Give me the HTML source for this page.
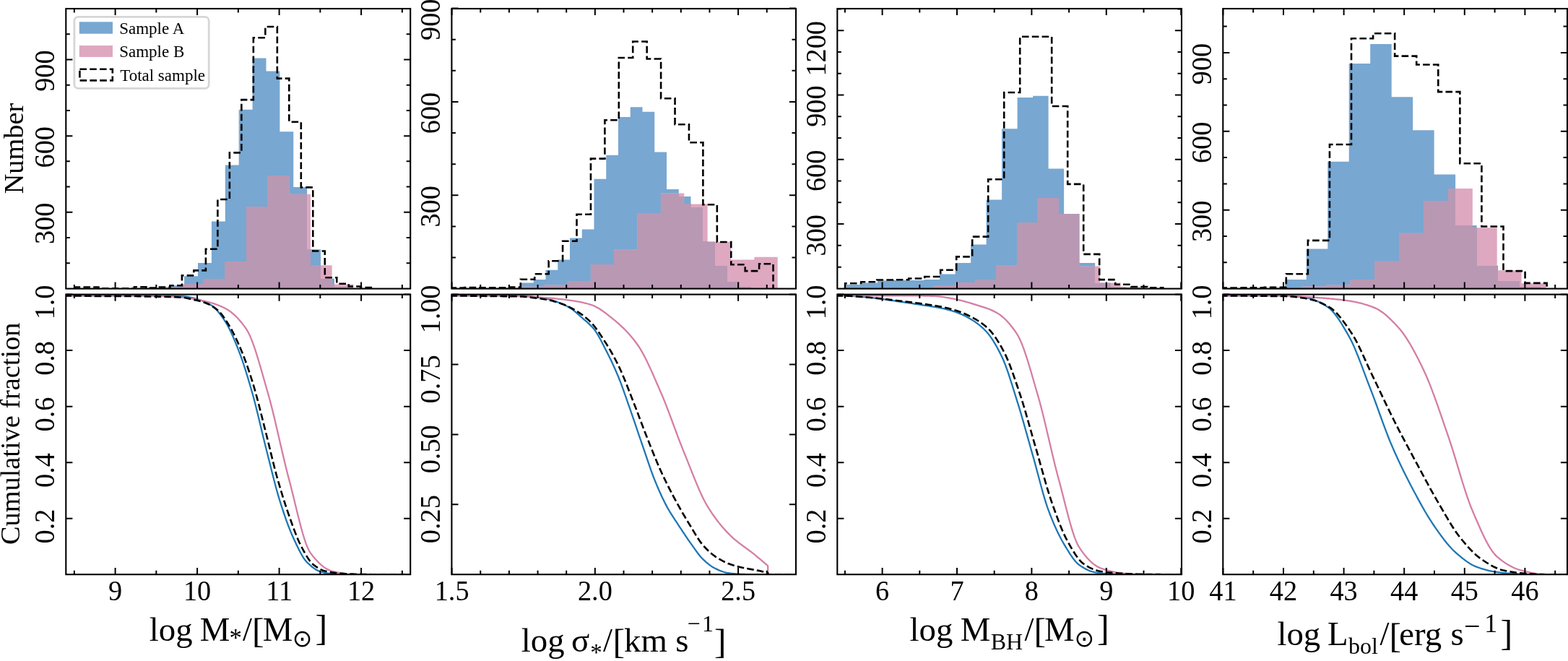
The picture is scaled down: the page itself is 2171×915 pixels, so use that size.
<!DOCTYPE html><html><head><meta charset="utf-8"><style>html,body{margin:0;padding:0;background:#fff;overflow:hidden}svg{display:block}</style></head><body>
<svg width="2171" height="915" viewBox="0 0 2171 915" font-family="'Liberation Serif', 'DejaVu Serif', serif">
<rect width="2171" height="915" fill="#fff"/>
<clipPath id="ct0"><rect x="91.3" y="12" width="476.9" height="387.6"/></clipPath>
<clipPath id="cb0"><rect x="91.3" y="407.6" width="476.9" height="387.6"/></clipPath>
<g clip-path="url(#ct0)">
<path d="M236.2,400.4 L236.2,395.3 L255.1,395.3 L255.1,382.3 L274,382.3 L274,364.1 L292.9,364.1 L292.9,306.6 L311.8,306.6 L311.8,228.4 L330.7,228.4 L330.7,151.8 L349.6,151.8 L349.6,80.6 L368.5,80.6 L368.5,98.5 L387.4,98.5 L387.4,182.3 L406.3,182.3 L406.3,259 L425.2,259 L425.2,345.3 L444.1,345.3 L444.1,385.8 L463,385.8 L463,397 L481.9,397 L481.9,400.4 Z" fill="#78a7d1"/>
<path d="M192.8,400.4 L192.8,398.6 L222.45,398.6 L222.45,397.2 L252.1,397.2 L252.1,393.2 L281.75,393.2 L281.75,386.3 L311.4,386.3 L311.4,362.1 L341.05,362.1 L341.05,286.3 L370.7,286.3 L370.7,243.3 L400.35,243.3 L400.35,268.8 L430,268.8 L430,367.2 L459.65,367.2 L459.65,393.4 L489.3,393.4 L489.3,400.4 Z" fill="#dea8c0"/>
<g fill="#b998b4" shape-rendering="crispEdges"><rect x="236.2" y="397.2" width="15.9" height="3.2"/><rect x="252.1" y="395.3" width="3" height="5.1"/><rect x="255.1" y="393.2" width="18.9" height="7.2"/><rect x="274" y="393.2" width="7.75" height="7.2"/><rect x="281.75" y="386.3" width="11.15" height="14.1"/><rect x="292.9" y="386.3" width="18.5" height="14.1"/><rect x="311.4" y="362.1" width="0.4" height="38.3"/><rect x="311.8" y="362.1" width="18.9" height="38.3"/><rect x="330.7" y="362.1" width="10.35" height="38.3"/><rect x="341.05" y="286.3" width="8.55" height="114.1"/><rect x="349.6" y="286.3" width="18.9" height="114.1"/><rect x="368.5" y="286.3" width="2.2" height="114.1"/><rect x="370.7" y="243.3" width="16.7" height="157.1"/><rect x="387.4" y="243.3" width="12.95" height="157.1"/><rect x="400.35" y="268.8" width="5.95" height="131.6"/><rect x="406.3" y="268.8" width="18.9" height="131.6"/><rect x="425.2" y="345.3" width="4.8" height="55.1"/><rect x="430" y="367.2" width="14.1" height="33.2"/><rect x="444.1" y="385.8" width="15.55" height="14.6"/><rect x="459.65" y="393.4" width="3.35" height="7"/><rect x="463" y="397" width="18.9" height="3.4"/></g>
<path d="M103.5,399.4 L103.5,397.5 L119.99,397.5 L119.99,397.5 L136.48,397.5 L136.48,399.4 L152.97,399.4 L152.97,399.4 L169.46,399.4 L169.46,399.4 L185.95,399.4 L185.95,397.3 L202.44,397.3 L202.44,398.5 L218.93,398.5 L218.93,397.5 L235.42,397.5 L235.42,395.3 L251.91,395.3 L251.91,381.4 L268.4,381.4 L268.4,374.4 L284.89,374.4 L284.89,344.7 L301.38,344.7 L301.38,276 L317.87,276 L317.87,211.4 L334.36,211.4 L334.36,138.1 L350.85,138.1 L350.85,52.2 L367.34,52.2 L367.34,37 L383.83,37 L383.83,108.6 L400.32,108.6 L400.32,168.7 L416.81,168.7 L416.81,259.4 L433.3,259.4 L433.3,347.5 L449.79,347.5 L449.79,384.2 L466.28,384.2 L466.28,392.7 L482.77,392.7 L482.77,396.5 L499.26,396.5 L499.26,398 L515.75,398 L515.75,399.4" fill="none" stroke="#000" stroke-width="2.6" stroke-dasharray="9.6 4.2"/>
</g>
<g clip-path="url(#cb0)">
<path d="M89.3,409.34 L236.2,409.34 L237.43,409.35 L238.67,409.37 L239.9,409.39 L241.14,409.43 L242.37,409.48 L243.61,409.53 L244.84,409.59 L246.08,409.66 L247.31,409.74 L248.55,409.82 L249.78,409.91 L251.02,410 L252.25,410.09 L253.49,410.19 L254.72,410.29 L255.95,410.4 L257.19,410.54 L258.42,410.71 L259.66,410.9 L260.89,411.11 L262.13,411.35 L263.36,411.61 L264.6,411.89 L265.83,412.18 L267.07,412.49 L268.3,412.81 L269.54,413.14 L270.77,413.48 L272.01,413.83 L273.24,414.19 L274.47,414.55 L275.71,414.92 L276.94,415.32 L278.18,415.74 L279.41,416.18 L280.65,416.64 L281.88,417.13 L283.12,417.64 L284.35,418.19 L285.59,418.76 L286.82,419.36 L288.06,420 L289.29,420.67 L290.53,421.38 L291.76,422.12 L292.99,422.9 L294.23,423.77 L295.46,424.74 L296.7,425.81 L297.93,426.98 L299.17,428.24 L300.4,429.58 L301.64,431.01 L302.87,432.5 L304.11,434.07 L305.34,435.7 L306.58,437.38 L307.81,439.12 L309.05,440.9 L310.28,442.72 L311.52,444.58 L312.75,446.5 L313.98,448.55 L315.22,450.73 L316.45,453.03 L317.69,455.45 L318.92,457.97 L320.16,460.59 L321.39,463.3 L322.63,466.1 L323.86,468.97 L325.1,471.9 L326.33,474.9 L327.57,477.95 L328.8,481.04 L330.04,484.16 L331.27,487.33 L332.5,490.6 L333.74,493.99 L334.97,497.48 L336.21,501.07 L337.44,504.76 L338.68,508.54 L339.91,512.4 L341.15,516.34 L342.38,520.36 L343.62,524.44 L344.85,528.59 L346.09,532.79 L347.32,537.04 L348.56,541.34 L349.79,545.68 L351.02,550.15 L352.26,554.77 L353.49,559.53 L354.73,564.41 L355.96,569.4 L357.2,574.46 L358.43,579.59 L359.67,584.75 L360.9,589.94 L362.14,595.13 L363.37,600.31 L364.61,605.44 L365.84,610.52 L367.08,615.52 L368.31,620.42 L369.54,625.28 L370.78,630.18 L372.01,635.12 L373.25,640.07 L374.48,645.03 L375.72,649.97 L376.95,654.89 L378.19,659.75 L379.42,664.56 L380.66,669.29 L381.89,673.93 L383.13,678.45 L384.36,682.85 L385.6,687.11 L386.83,691.21 L388.06,695.16 L389.3,699.05 L390.53,702.87 L391.77,706.64 L393,710.35 L394.24,713.98 L395.47,717.54 L396.71,721.03 L397.94,724.43 L399.18,727.74 L400.41,730.96 L401.65,734.08 L402.88,737.11 L404.12,740.02 L405.35,742.83 L406.58,745.53 L407.82,748.19 L409.05,750.84 L410.29,753.46 L411.52,756.05 L412.76,758.58 L413.99,761.06 L415.23,763.46 L416.46,765.76 L417.7,767.97 L418.93,770.06 L420.17,772.03 L421.4,773.85 L422.64,775.53 L423.87,777.03 L425.11,778.36 L426.34,779.56 L427.57,780.73 L428.81,781.87 L430.04,782.96 L431.28,784 L432.51,785 L433.75,785.94 L434.98,786.83 L436.22,787.66 L437.45,788.43 L438.69,789.14 L439.92,789.78 L441.16,790.34 L442.39,790.83 L443.63,791.24 L444.86,791.58 L446.09,791.91 L447.33,792.22 L448.56,792.51 L449.8,792.79 L451.03,793.05 L452.27,793.29 L453.5,793.52 L454.74,793.73 L455.97,793.92 L457.21,794.09 L458.44,794.24 L459.68,794.38 L460.91,794.49 L462.15,794.58 L463.38,794.65 L464.61,794.71 L465.85,794.77 L467.08,794.82 L468.32,794.88 L469.55,794.93 L470.79,794.98 L472.02,795.02 L473.26,795.06 L474.49,795.1 L475.73,795.13 L476.96,795.15 L478.2,795.17 L479.43,795.19 L480.67,795.2 L481.9,795.2 L570.2,795.2" fill="none" stroke="#1f77b4" stroke-width="2.3" stroke-linejoin="round"/>
<path d="M89.3,409.34 L192.8,409.34 L194.29,409.35 L195.78,409.36 L197.27,409.37 L198.76,409.39 L200.25,409.41 L201.74,409.43 L203.23,409.46 L204.72,409.49 L206.21,409.52 L207.7,409.55 L209.19,409.59 L210.68,409.62 L212.17,409.66 L213.66,409.7 L215.15,409.75 L216.64,409.79 L218.13,409.83 L219.62,409.88 L221.11,409.92 L222.6,409.97 L224.09,410.02 L225.58,410.07 L227.07,410.13 L228.56,410.19 L230.05,410.25 L231.54,410.32 L233.03,410.39 L234.52,410.47 L236.01,410.55 L237.5,410.63 L238.99,410.72 L240.48,410.81 L241.97,410.91 L243.46,411.01 L244.95,411.11 L246.44,411.22 L247.93,411.33 L249.42,411.45 L250.91,411.57 L252.4,411.7 L253.89,411.83 L255.38,411.98 L256.87,412.15 L258.36,412.32 L259.85,412.51 L261.34,412.72 L262.83,412.93 L264.32,413.15 L265.81,413.39 L267.3,413.64 L268.79,413.89 L270.28,414.16 L271.77,414.43 L273.26,414.72 L274.75,415.01 L276.24,415.31 L277.73,415.62 L279.22,415.93 L280.71,416.25 L282.2,416.58 L283.69,416.92 L285.18,417.27 L286.67,417.63 L288.16,418.01 L289.65,418.41 L291.14,418.82 L292.63,419.25 L294.12,419.71 L295.61,420.18 L297.1,420.67 L298.59,421.18 L300.08,421.72 L301.57,422.28 L303.06,422.86 L304.55,423.47 L306.04,424.11 L307.53,424.77 L309.02,425.47 L310.51,426.19 L312,426.94 L313.49,427.76 L314.98,428.64 L316.47,429.59 L317.96,430.61 L319.45,431.7 L320.94,432.86 L322.43,434.09 L323.92,435.39 L325.41,436.76 L326.9,438.2 L328.39,439.71 L329.88,441.3 L331.37,442.96 L332.86,444.69 L334.35,446.5 L335.84,448.38 L337.33,450.33 L338.82,452.37 L340.31,454.48 L341.79,456.7 L343.28,459.25 L344.77,462.14 L346.26,465.35 L347.75,468.85 L349.24,472.63 L350.73,476.65 L352.22,480.91 L353.71,485.36 L355.2,490 L356.69,494.79 L358.18,499.72 L359.67,504.75 L361.16,509.88 L362.65,515.07 L364.14,520.31 L365.63,525.56 L367.12,530.81 L368.61,536.04 L370.1,541.21 L371.59,546.37 L373.08,551.74 L374.57,557.33 L376.06,563.1 L377.55,569.04 L379.04,575.13 L380.53,581.33 L382.02,587.64 L383.51,594.02 L385,600.45 L386.49,606.92 L387.98,613.39 L389.47,619.84 L390.96,626.25 L392.45,632.61 L393.94,638.87 L395.43,645.03 L396.92,651.06 L398.41,656.94 L399.9,662.64 L401.39,668.24 L402.88,674.01 L404.37,679.93 L405.86,685.97 L407.35,692.07 L408.84,698.21 L410.33,704.34 L411.82,710.42 L413.31,716.41 L414.8,722.28 L416.29,727.98 L417.78,733.47 L419.27,738.71 L420.76,743.67 L422.25,748.3 L423.74,752.56 L425.23,756.42 L426.72,759.83 L428.21,762.76 L429.7,765.16 L431.19,767.17 L432.68,769.09 L434.17,770.95 L435.66,772.74 L437.15,774.45 L438.64,776.09 L440.13,777.66 L441.62,779.15 L443.11,780.56 L444.6,781.9 L446.09,783.15 L447.58,784.32 L449.07,785.4 L450.56,786.4 L452.05,787.31 L453.54,788.14 L455.03,788.87 L456.52,789.51 L458.01,790.06 L459.5,790.51 L460.99,790.9 L462.48,791.28 L463.97,791.65 L465.46,792.01 L466.95,792.35 L468.44,792.68 L469.93,793 L471.42,793.3 L472.91,793.58 L474.4,793.84 L475.89,794.08 L477.38,794.31 L478.87,794.51 L480.36,794.68 L481.85,794.84 L483.34,794.96 L484.83,795.07 L486.32,795.14 L487.81,795.18 L489.3,795.2 L570.2,795.2" fill="none" stroke="#d57ea5" stroke-width="2.3" stroke-linejoin="round"/>
<path d="M89.3,409.34 L103.5,409.34 L105.57,409.39 L107.64,409.43 L109.71,409.47 L111.79,409.52 L113.86,409.56 L115.93,409.6 L118,409.65 L120.07,409.69 L122.14,409.74 L124.22,409.79 L126.29,409.85 L128.36,409.91 L130.43,409.96 L132.5,410 L134.57,410.02 L136.65,410.03 L138.72,410.03 L140.79,410.03 L142.86,410.03 L144.93,410.03 L147,410.03 L149.08,410.03 L151.15,410.03 L153.22,410.03 L155.29,410.03 L157.36,410.03 L159.43,410.03 L161.51,410.03 L163.58,410.03 L165.65,410.03 L167.72,410.03 L169.79,410.03 L171.86,410.03 L173.93,410.03 L176.01,410.03 L178.08,410.03 L180.15,410.03 L182.22,410.03 L184.29,410.03 L186.36,410.03 L188.44,410.05 L190.51,410.09 L192.58,410.14 L194.65,410.21 L196.72,410.27 L198.79,410.33 L200.87,410.38 L202.94,410.42 L205.01,410.44 L207.08,410.46 L209.15,410.48 L211.22,410.5 L213.3,410.52 L215.37,410.53 L217.44,410.56 L219.51,410.58 L221.58,410.61 L223.65,410.65 L225.72,410.69 L227.8,410.73 L229.87,410.77 L231.94,410.83 L234.01,410.88 L236.08,410.94 L238.15,411 L240.23,411.07 L242.3,411.14 L244.37,411.23 L246.44,411.33 L248.51,411.44 L250.58,411.57 L252.66,411.72 L254.73,411.96 L256.8,412.29 L258.87,412.69 L260.94,413.14 L263.01,413.63 L265.09,414.13 L267.16,414.63 L269.23,415.11 L271.3,415.58 L273.37,416.07 L275.44,416.57 L277.52,417.11 L279.59,417.69 L281.66,418.32 L283.73,419.02 L285.8,419.8 L287.87,420.68 L289.94,421.68 L292.02,422.8 L294.09,424.03 L296.16,425.39 L298.23,426.86 L300.3,428.46 L302.37,430.21 L304.45,432.3 L306.52,434.71 L308.59,437.41 L310.66,440.34 L312.73,443.45 L314.8,446.7 L316.88,450.05 L318.95,453.47 L321.02,457.12 L323.09,461.01 L325.16,465.14 L327.23,469.46 L329.31,473.98 L331.38,478.67 L333.45,483.51 L335.52,488.51 L337.59,493.77 L339.66,499.28 L341.73,505.04 L343.81,511.03 L345.88,517.24 L347.95,523.66 L350.02,530.27 L352.09,537.13 L354.16,544.42 L356.24,552.08 L358.31,560.03 L360.38,568.17 L362.45,576.42 L364.52,584.69 L366.59,592.88 L368.67,601.01 L370.74,609.36 L372.81,617.86 L374.88,626.41 L376.95,634.9 L379.02,643.22 L381.1,651.29 L383.17,659 L385.24,666.32 L387.31,673.45 L389.38,680.4 L391.45,687.16 L393.53,693.75 L395.6,700.14 L397.67,706.34 L399.74,712.34 L401.81,718.2 L403.88,724.02 L405.95,729.75 L408.03,735.33 L410.1,740.68 L412.17,745.75 L414.24,750.46 L416.31,754.77 L418.38,758.73 L420.46,762.61 L422.53,766.35 L424.6,769.89 L426.67,773.15 L428.74,776.09 L430.81,778.63 L432.89,780.71 L434.96,782.41 L437.03,783.98 L439.1,785.42 L441.17,786.73 L443.24,787.88 L445.32,788.88 L447.39,789.72 L449.46,790.37 L451.53,790.89 L453.6,791.34 L455.67,791.75 L457.74,792.11 L459.82,792.43 L461.89,792.71 L463.96,792.96 L466.03,793.18 L468.1,793.39 L470.17,793.58 L472.25,793.76 L474.32,793.92 L476.39,794.07 L478.46,794.2 L480.53,794.31 L482.6,794.41 L484.68,794.5 L486.75,794.59 L488.82,794.66 L490.89,794.73 L492.96,794.79 L495.03,794.85 L497.11,794.9 L499.18,794.94 L501.25,794.99 L503.32,795.03 L505.39,795.07 L507.46,795.1 L509.54,795.13 L511.61,795.16 L513.68,795.18 L515.75,795.2 L570.2,795.2" fill="none" stroke="#000" stroke-width="2.6" stroke-linejoin="round" stroke-dasharray="9.6 4.2"/>
</g>
<path d="M159.6,399.6v-9.1M159.6,12v9.1M273.1,399.6v-9.1M273.1,12v9.1M386.6,399.6v-9.1M386.6,12v9.1M500.1,399.6v-9.1M500.1,12v9.1M102.85,399.6v-5.5M102.85,12v5.5M216.35,399.6v-5.5M216.35,12v5.5M329.85,399.6v-5.5M329.85,12v5.5M443.35,399.6v-5.5M443.35,12v5.5M556.85,399.6v-5.5M556.85,12v5.5M159.6,795.2v-9.1M159.6,407.6v9.1M273.1,795.2v-9.1M273.1,407.6v9.1M386.6,795.2v-9.1M386.6,407.6v9.1M500.1,795.2v-9.1M500.1,407.6v9.1M102.85,795.2v-5.5M102.85,407.6v5.5M216.35,795.2v-5.5M216.35,407.6v5.5M329.85,795.2v-5.5M329.85,407.6v5.5M443.35,795.2v-5.5M443.35,407.6v5.5M556.85,795.2v-5.5M556.85,407.6v5.5M91.3,293.77h9.1M568.2,293.77h-9.1M91.3,188.14h9.1M568.2,188.14h-9.1M91.3,82.51h9.1M568.2,82.51h-9.1M91.3,364.19h5.5M568.2,364.19h-5.5M91.3,328.98h5.5M568.2,328.98h-5.5M91.3,258.56h5.5M568.2,258.56h-5.5M91.3,223.35h5.5M568.2,223.35h-5.5M91.3,152.93h5.5M568.2,152.93h-5.5M91.3,117.72h5.5M568.2,117.72h-5.5M91.3,47.3h5.5M568.2,47.3h-5.5M91.3,12.09h5.5M568.2,12.09h-5.5M91.3,717.68h9.1M568.2,717.68h-9.1M91.3,640.16h9.1M568.2,640.16h-9.1M91.3,562.64h9.1M568.2,562.64h-9.1M91.3,485.12h9.1M568.2,485.12h-9.1M91.3,407.6h9.1M568.2,407.6h-9.1" stroke="#000" stroke-width="2.0" fill="none"/>
<rect x="91.3" y="12" width="476.9" height="387.6" fill="none" stroke="#000" stroke-width="2.1"/>
<rect x="91.3" y="407.6" width="476.9" height="387.6" fill="none" stroke="#000" stroke-width="2.1"/>
<g font-size="38.3">
<text transform="translate(159.6,831.3) scale(1,1.05)" text-anchor="middle">9</text>
<text transform="translate(273.1,831.3) scale(1,1.05)" text-anchor="middle">10</text>
<text transform="translate(386.6,831.3) scale(1,1.05)" text-anchor="middle">11</text>
<text transform="translate(500.1,831.3) scale(1,1.05)" text-anchor="middle">12</text>
<text transform="translate(74.9,280.67) rotate(-90) scale(1,1.05)" text-anchor="end">300</text>
<text transform="translate(74.9,175.04) rotate(-90) scale(1,1.05)" text-anchor="end">600</text>
<text transform="translate(74.9,69.41) rotate(-90) scale(1,1.05)" text-anchor="end">900</text>
<text transform="translate(74.9,704.58) rotate(-90) scale(1,1.05)" text-anchor="end">0.2</text>
<text transform="translate(74.9,627.06) rotate(-90) scale(1,1.05)" text-anchor="end">0.4</text>
<text transform="translate(74.9,549.54) rotate(-90) scale(1,1.05)" text-anchor="end">0.6</text>
<text transform="translate(74.9,472.02) rotate(-90) scale(1,1.05)" text-anchor="end">0.8</text>
<text transform="translate(74.9,394.5) rotate(-90) scale(1,1.05)" text-anchor="end">1.0</text>
</g>
<clipPath id="ct1"><rect x="625.4" y="12" width="476.6" height="387.6"/></clipPath>
<clipPath id="cb1"><rect x="625.4" y="407.6" width="476.6" height="387.6"/></clipPath>
<g clip-path="url(#ct1)">
<path d="M722,400.6 L722,391.6 L738.75,391.6 L738.75,387.1 L755.5,387.1 L755.5,373.7 L772.25,373.7 L772.25,359.6 L789,359.6 L789,329.5 L805.75,329.5 L805.75,317.6 L822.5,317.6 L822.5,247.7 L839.25,247.7 L839.25,214.7 L856,214.7 L856,161.9 L872.75,161.9 L872.75,148.2 L889.5,148.2 L889.5,154.7 L906.25,154.7 L906.25,210.5 L923,210.5 L923,262 L939.75,262 L939.75,272.1 L956.5,272.1 L956.5,287.3 L973.25,287.3 L973.25,334.4 L990,334.4 L990,368 L1006.75,368 L1006.75,390.4 L1023.5,390.4 L1023.5,397 L1040.25,397 L1040.25,400.6 Z" fill="#78a7d1"/>
<path d="M688.4,400.6 L688.4,398.3 L720.76,398.3 L720.76,396.7 L753.12,396.7 L753.12,394.5 L785.48,394.5 L785.48,389.4 L817.84,389.4 L817.84,366.3 L850.2,366.3 L850.2,345.6 L882.56,345.6 L882.56,295.2 L914.92,295.2 L914.92,267.6 L947.28,267.6 L947.28,282.4 L979.64,282.4 L979.64,334.8 L1012,334.8 L1012,359.5 L1044.36,359.5 L1044.36,355.7 L1076.72,355.7 L1076.72,400.6 Z" fill="#dea8c0"/>
<g fill="#b998b4" shape-rendering="crispEdges"><rect x="722" y="396.7" width="16.75" height="3.9"/><rect x="738.75" y="396.7" width="14.37" height="3.9"/><rect x="753.12" y="394.5" width="2.38" height="6.1"/><rect x="755.5" y="394.5" width="16.75" height="6.1"/><rect x="772.25" y="394.5" width="13.23" height="6.1"/><rect x="785.48" y="389.4" width="3.52" height="11.2"/><rect x="789" y="389.4" width="16.75" height="11.2"/><rect x="805.75" y="389.4" width="12.09" height="11.2"/><rect x="817.84" y="366.3" width="4.66" height="34.3"/><rect x="822.5" y="366.3" width="16.75" height="34.3"/><rect x="839.25" y="366.3" width="10.95" height="34.3"/><rect x="850.2" y="345.6" width="5.8" height="55"/><rect x="856" y="345.6" width="16.75" height="55"/><rect x="872.75" y="345.6" width="9.81" height="55"/><rect x="882.56" y="295.2" width="6.94" height="105.4"/><rect x="889.5" y="295.2" width="16.75" height="105.4"/><rect x="906.25" y="295.2" width="8.67" height="105.4"/><rect x="914.92" y="267.6" width="8.08" height="133"/><rect x="923" y="267.6" width="16.75" height="133"/><rect x="939.75" y="272.1" width="7.53" height="128.5"/><rect x="947.28" y="282.4" width="9.22" height="118.2"/><rect x="956.5" y="287.3" width="16.75" height="113.3"/><rect x="973.25" y="334.4" width="6.39" height="66.2"/><rect x="979.64" y="334.8" width="10.36" height="65.8"/><rect x="990" y="368" width="16.75" height="32.6"/><rect x="1006.75" y="390.4" width="5.25" height="10.2"/><rect x="1012" y="390.4" width="11.5" height="10.2"/><rect x="1023.5" y="397" width="16.75" height="3.6"/></g>
<path d="M623.65,399.6 L623.65,398.5 L643.08,398.5 L643.08,398 L662.51,398 L662.51,398.3 L681.94,398.3 L681.94,398.3 L701.37,398.3 L701.37,397.6 L720.8,397.6 L720.8,386.7 L740.23,386.7 L740.23,379.3 L759.66,379.3 L759.66,361.3 L779.09,361.3 L779.09,333.8 L798.52,333.8 L798.52,296.8 L817.95,296.8 L817.95,219.6 L837.38,219.6 L837.38,166.3 L856.81,166.3 L856.81,80 L876.24,80 L876.24,57.5 L895.67,57.5 L895.67,81.5 L915.1,81.5 L915.1,136.2 L934.53,136.2 L934.53,172.2 L953.96,172.2 L953.96,197.3 L973.39,197.3 L973.39,283.3 L992.82,283.3 L992.82,335 L1012.25,335 L1012.25,366.2 L1031.68,366.2 L1031.68,375.1 L1051.11,375.1 L1051.11,365.3 L1070.54,365.3 L1070.54,399.6" fill="none" stroke="#000" stroke-width="2.6" stroke-dasharray="9.6 4.2"/>
</g>
<g clip-path="url(#cb1)">
<path d="M623.4,409.34 L722,409.34 L723.6,409.46 L725.2,409.58 L726.8,409.71 L728.4,409.84 L730,409.99 L731.6,410.14 L733.19,410.3 L734.79,410.47 L736.39,410.64 L737.99,410.81 L739.59,411 L741.19,411.18 L742.79,411.37 L744.39,411.58 L745.99,411.79 L747.59,412.01 L749.19,412.24 L750.79,412.49 L752.39,412.76 L753.98,413.04 L755.58,413.35 L757.18,413.68 L758.78,414.06 L760.38,414.48 L761.98,414.92 L763.58,415.4 L765.18,415.91 L766.78,416.44 L768.38,416.98 L769.98,417.55 L771.58,418.12 L773.18,418.71 L774.78,419.32 L776.37,419.95 L777.97,420.61 L779.57,421.31 L781.17,422.03 L782.77,422.8 L784.37,423.59 L785.97,424.43 L787.57,425.32 L789.17,426.24 L790.77,427.26 L792.37,428.37 L793.97,429.57 L795.57,430.85 L797.16,432.18 L798.76,433.56 L800.36,434.97 L801.96,436.4 L803.56,437.83 L805.16,439.26 L806.76,440.65 L808.36,442.02 L809.96,443.38 L811.56,444.74 L813.16,446.13 L814.76,447.57 L816.36,449.06 L817.95,450.64 L819.55,452.31 L821.15,454.11 L822.75,456.03 L824.35,458.18 L825.95,460.56 L827.55,463.14 L829.15,465.9 L830.75,468.79 L832.35,471.79 L833.95,474.87 L835.55,478 L837.15,481.15 L838.74,484.27 L840.34,487.39 L841.94,490.54 L843.54,493.75 L845.14,497.02 L846.74,500.36 L848.34,503.76 L849.94,507.24 L851.54,510.81 L853.14,514.45 L854.74,518.19 L856.34,522.03 L857.94,526.01 L859.54,530.16 L861.13,534.44 L862.73,538.83 L864.33,543.32 L865.93,547.86 L867.53,552.45 L869.13,557.06 L870.73,561.66 L872.33,566.23 L873.93,570.79 L875.53,575.39 L877.13,580.04 L878.73,584.72 L880.33,589.42 L881.92,594.14 L883.52,598.85 L885.12,603.56 L886.72,608.25 L888.32,612.9 L889.92,617.53 L891.52,622.19 L893.12,626.91 L894.72,631.65 L896.32,636.38 L897.92,641.09 L899.52,645.73 L901.12,650.28 L902.71,654.71 L904.31,658.99 L905.91,663.09 L907.51,667.04 L909.11,670.91 L910.71,674.7 L912.31,678.41 L913.91,682.04 L915.51,685.57 L917.11,689 L918.71,692.33 L920.31,695.55 L921.91,698.65 L923.51,701.63 L925.1,704.48 L926.7,707.22 L928.3,709.86 L929.9,712.43 L931.5,714.93 L933.1,717.38 L934.7,719.81 L936.3,722.22 L937.9,724.63 L939.5,727.07 L941.1,729.52 L942.7,731.97 L944.3,734.4 L945.89,736.82 L947.49,739.22 L949.09,741.6 L950.69,743.96 L952.29,746.28 L953.89,748.58 L955.49,750.84 L957.09,753.07 L958.69,755.32 L960.29,757.6 L961.89,759.88 L963.49,762.14 L965.09,764.35 L966.68,766.49 L968.28,768.55 L969.88,770.48 L971.48,772.28 L973.08,773.92 L974.68,775.44 L976.28,776.9 L977.88,778.32 L979.48,779.67 L981.08,780.97 L982.68,782.19 L984.28,783.34 L985.88,784.41 L987.47,785.39 L989.07,786.29 L990.67,787.09 L992.27,787.86 L993.87,788.61 L995.47,789.33 L997.07,790 L998.67,790.63 L1000.27,791.21 L1001.87,791.74 L1003.47,792.19 L1005.07,792.58 L1006.67,792.89 L1008.27,793.15 L1009.86,793.39 L1011.46,793.61 L1013.06,793.81 L1014.66,794 L1016.26,794.16 L1017.86,794.31 L1019.46,794.45 L1021.06,794.56 L1022.66,794.65 L1024.26,794.73 L1025.86,794.8 L1027.46,794.87 L1029.06,794.94 L1030.65,795 L1032.25,795.06 L1033.85,795.11 L1035.45,795.15 L1037.05,795.17 L1038.65,795.19 L1040.25,795.2 L1104,795.2" fill="none" stroke="#1f77b4" stroke-width="2.3" stroke-linejoin="round"/>
<path d="M623.4,409.34 L688.4,409.34 L690.28,409.36 L692.17,409.39 L694.05,409.42 L695.93,409.45 L697.82,409.49 L699.7,409.53 L701.58,409.58 L703.47,409.62 L705.35,409.67 L707.23,409.73 L709.12,409.78 L711,409.84 L712.88,409.9 L714.77,409.96 L716.65,410.03 L718.53,410.09 L720.42,410.16 L722.3,410.22 L724.18,410.3 L726.07,410.38 L727.95,410.46 L729.84,410.55 L731.72,410.65 L733.6,410.75 L735.49,410.85 L737.37,410.96 L739.25,411.07 L741.14,411.19 L743.02,411.31 L744.9,411.43 L746.79,411.56 L748.67,411.69 L750.55,411.82 L752.44,411.96 L754.32,412.09 L756.2,412.23 L758.09,412.38 L759.97,412.53 L761.85,412.69 L763.74,412.85 L765.62,413.02 L767.5,413.2 L769.39,413.38 L771.27,413.57 L773.15,413.77 L775.04,413.97 L776.92,414.18 L778.8,414.4 L780.69,414.62 L782.57,414.86 L784.45,415.1 L786.34,415.35 L788.22,415.61 L790.1,415.87 L791.99,416.15 L793.87,416.43 L795.75,416.73 L797.64,417.04 L799.52,417.37 L801.41,417.72 L803.29,418.08 L805.17,418.47 L807.06,418.87 L808.94,419.3 L810.82,419.76 L812.71,420.24 L814.59,420.75 L816.47,421.29 L818.36,421.86 L820.24,422.52 L822.12,423.29 L824.01,424.17 L825.89,425.14 L827.77,426.19 L829.66,427.33 L831.54,428.53 L833.42,429.8 L835.31,431.13 L837.19,432.51 L839.07,433.93 L840.96,435.38 L842.84,436.86 L844.72,438.37 L846.61,439.88 L848.49,441.41 L850.37,442.93 L852.26,444.47 L854.14,446.05 L856.02,447.67 L857.91,449.34 L859.79,451.06 L861.67,452.83 L863.56,454.66 L865.44,456.55 L867.32,458.5 L869.21,460.52 L871.09,462.6 L872.97,464.76 L874.86,467 L876.74,469.31 L878.63,471.7 L880.51,474.19 L882.39,476.76 L884.28,479.47 L886.16,482.41 L888.04,485.55 L889.93,488.87 L891.81,492.37 L893.69,496.02 L895.58,499.82 L897.46,503.73 L899.34,507.76 L901.23,511.87 L903.11,516.06 L904.99,520.32 L906.88,524.62 L908.76,528.95 L910.64,533.29 L912.53,537.63 L914.41,541.95 L916.29,546.29 L918.18,550.78 L920.06,555.4 L921.94,560.15 L923.83,564.99 L925.71,569.92 L927.59,574.91 L929.48,579.95 L931.36,585.02 L933.24,590.11 L935.13,595.19 L937.01,600.25 L938.89,605.28 L940.78,610.24 L942.66,615.14 L944.54,619.94 L946.43,624.64 L948.31,629.24 L950.19,633.89 L952.08,638.6 L953.96,643.34 L955.85,648.1 L957.73,652.85 L959.61,657.57 L961.5,662.25 L963.38,666.86 L965.26,671.39 L967.15,675.81 L969.03,680.1 L970.91,684.24 L972.8,688.22 L974.68,692.01 L976.56,695.59 L978.45,698.95 L980.33,702.07 L982.21,705.07 L984.1,707.97 L985.98,710.79 L987.86,713.52 L989.75,716.17 L991.63,718.73 L993.51,721.22 L995.4,723.63 L997.28,725.97 L999.16,728.23 L1001.05,730.43 L1002.93,732.56 L1004.81,734.63 L1006.7,736.64 L1008.58,738.59 L1010.46,740.49 L1012.35,742.33 L1014.23,744.1 L1016.11,745.79 L1018,747.41 L1019.88,748.96 L1021.76,750.47 L1023.65,751.92 L1025.53,753.35 L1027.42,754.74 L1029.3,756.11 L1031.18,757.47 L1033.07,758.83 L1034.95,760.2 L1036.83,761.58 L1038.72,762.98 L1040.6,764.41 L1042.48,765.88 L1044.37,767.4 L1046.25,768.95 L1048.13,770.51 L1050.02,772.07 L1051.9,773.65 L1053.78,775.23 L1055.67,776.83 L1057.55,778.43 L1059.43,780.04 L1061.32,781.66 L1063.2,783.28 L1063.2,795.2 L1104,795.2" fill="none" stroke="#d57ea5" stroke-width="2.3" stroke-linejoin="round"/>
<path d="M623.4,409.34 L623.65,409.34 L625.86,409.36 L628.07,409.37 L630.28,409.39 L632.49,409.41 L634.69,409.43 L636.9,409.45 L639.11,409.47 L641.32,409.49 L643.53,409.51 L645.74,409.54 L647.95,409.56 L650.16,409.59 L652.36,409.62 L654.57,409.65 L656.78,409.67 L658.99,409.7 L661.2,409.73 L663.41,409.75 L665.62,409.78 L667.83,409.8 L670.03,409.82 L672.24,409.84 L674.45,409.86 L676.66,409.89 L678.87,409.91 L681.08,409.93 L683.29,409.95 L685.5,409.97 L687.71,409.99 L689.91,410.01 L692.12,410.03 L694.33,410.05 L696.54,410.08 L698.75,410.1 L700.96,410.12 L703.17,410.15 L705.38,410.17 L707.58,410.2 L709.79,410.23 L712,410.25 L714.21,410.29 L716.42,410.33 L718.63,410.37 L720.84,410.43 L723.05,410.51 L725.25,410.66 L727.46,410.84 L729.67,411.06 L731.88,411.31 L734.09,411.57 L736.3,411.85 L738.51,412.12 L740.72,412.39 L742.92,412.67 L745.13,412.95 L747.34,413.26 L749.55,413.58 L751.76,413.92 L753.97,414.28 L756.18,414.67 L758.39,415.09 L760.6,415.53 L762.8,416.03 L765.01,416.57 L767.22,417.15 L769.43,417.79 L771.64,418.46 L773.85,419.17 L776.06,419.92 L778.27,420.71 L780.47,421.53 L782.68,422.43 L784.89,423.41 L787.1,424.44 L789.31,425.55 L791.52,426.71 L793.73,427.93 L795.94,429.2 L798.14,430.52 L800.35,431.89 L802.56,433.34 L804.77,434.86 L806.98,436.47 L809.19,438.17 L811.4,439.97 L813.61,441.87 L815.82,443.9 L818.02,446.04 L820.23,448.39 L822.44,450.99 L824.65,453.81 L826.86,456.81 L829.07,459.97 L831.28,463.24 L833.49,466.6 L835.69,470 L837.9,473.42 L840.11,476.91 L842.32,480.5 L844.53,484.2 L846.74,488.02 L848.95,491.96 L851.16,496.04 L853.36,500.26 L855.57,504.63 L857.78,509.17 L859.99,514.01 L862.2,519.11 L864.41,524.42 L866.62,529.91 L868.83,535.5 L871.03,541.16 L873.24,546.83 L875.45,552.46 L877.66,558.06 L879.87,563.75 L882.08,569.53 L884.29,575.37 L886.5,581.22 L888.71,587.07 L890.91,592.88 L893.12,598.61 L895.33,604.24 L897.54,609.8 L899.75,615.36 L901.96,620.9 L904.17,626.4 L906.38,631.83 L908.58,637.17 L910.79,642.4 L913,647.49 L915.21,652.42 L917.42,657.21 L919.63,661.89 L921.84,666.47 L924.05,670.95 L926.25,675.35 L928.46,679.66 L930.67,683.91 L932.88,688.09 L935.09,692.21 L937.3,696.26 L939.51,700.24 L941.72,704.15 L943.93,708 L946.13,711.79 L948.34,715.53 L950.55,719.22 L952.76,722.87 L954.97,726.49 L957.18,730.18 L959.39,733.9 L961.6,737.61 L963.8,741.24 L966.01,744.74 L968.22,748.06 L970.43,751.13 L972.64,753.91 L974.85,756.39 L977.06,758.74 L979.27,760.98 L981.47,763.09 L983.68,765.09 L985.89,766.96 L988.1,768.7 L990.31,770.32 L992.52,771.8 L994.73,773.17 L996.94,774.48 L999.14,775.72 L1001.35,776.9 L1003.56,777.99 L1005.77,779.02 L1007.98,779.96 L1010.19,780.82 L1012.4,781.6 L1014.61,782.31 L1016.82,782.96 L1019.02,783.57 L1021.23,784.14 L1023.44,784.67 L1025.65,785.18 L1027.86,785.67 L1030.07,786.15 L1032.28,786.62 L1034.49,787.07 L1036.69,787.48 L1038.9,787.87 L1041.11,788.26 L1043.32,788.64 L1045.53,789.03 L1047.74,789.44 L1049.95,789.88 L1052.16,790.35 L1054.36,790.86 L1056.57,791.39 L1058.78,791.94 L1060.99,792.51 L1063.2,793.1 L1063.2,795.2 L1104,795.2" fill="none" stroke="#000" stroke-width="2.6" stroke-linejoin="round" stroke-dasharray="9.6 4.2"/>
</g>
<path d="M625.6,399.6v-9.1M625.6,12v9.1M823.85,399.6v-9.1M823.85,12v9.1M1022.1,399.6v-9.1M1022.1,12v9.1M665.25,399.6v-5.5M665.25,12v5.5M704.9,399.6v-5.5M704.9,12v5.5M744.55,399.6v-5.5M744.55,12v5.5M784.2,399.6v-5.5M784.2,12v5.5M863.5,399.6v-5.5M863.5,12v5.5M903.15,399.6v-5.5M903.15,12v5.5M942.8,399.6v-5.5M942.8,12v5.5M982.45,399.6v-5.5M982.45,12v5.5M1061.75,399.6v-5.5M1061.75,12v5.5M625.6,795.2v-9.1M625.6,407.6v9.1M823.85,795.2v-9.1M823.85,407.6v9.1M1022.1,795.2v-9.1M1022.1,407.6v9.1M665.25,795.2v-5.5M665.25,407.6v5.5M704.9,795.2v-5.5M704.9,407.6v5.5M744.55,795.2v-5.5M744.55,407.6v5.5M784.2,795.2v-5.5M784.2,407.6v5.5M863.5,795.2v-5.5M863.5,407.6v5.5M903.15,795.2v-5.5M903.15,407.6v5.5M942.8,795.2v-5.5M942.8,407.6v5.5M982.45,795.2v-5.5M982.45,407.6v5.5M1061.75,795.2v-5.5M1061.75,407.6v5.5M625.4,270.27h9.1M1102,270.27h-9.1M625.4,140.94h9.1M1102,140.94h-9.1M625.4,11.61h9.1M1102,11.61h-9.1M625.4,356.49h5.5M1102,356.49h-5.5M625.4,313.38h5.5M1102,313.38h-5.5M625.4,227.16h5.5M1102,227.16h-5.5M625.4,184.05h5.5M1102,184.05h-5.5M625.4,97.83h5.5M1102,97.83h-5.5M625.4,54.72h5.5M1102,54.72h-5.5M625.4,698.3h9.1M1102,698.3h-9.1M625.4,601.4h9.1M1102,601.4h-9.1M625.4,504.5h9.1M1102,504.5h-9.1M625.4,407.6h9.1M1102,407.6h-9.1" stroke="#000" stroke-width="2.0" fill="none"/>
<rect x="625.4" y="12" width="476.6" height="387.6" fill="none" stroke="#000" stroke-width="2.1"/>
<rect x="625.4" y="407.6" width="476.6" height="387.6" fill="none" stroke="#000" stroke-width="2.1"/>
<g font-size="38.3">
<text transform="translate(625.6,831.3) scale(1,1.05)" text-anchor="middle">1.5</text>
<text transform="translate(823.85,831.3) scale(1,1.05)" text-anchor="middle">2.0</text>
<text transform="translate(1022.1,831.3) scale(1,1.05)" text-anchor="middle">2.5</text>
<text transform="translate(609,257.17) rotate(-90) scale(1,1.05)" text-anchor="end">300</text>
<text transform="translate(609,127.84) rotate(-90) scale(1,1.05)" text-anchor="end">600</text>
<text transform="translate(609,-1.49) rotate(-90) scale(1,1.05)" text-anchor="end">900</text>
<text transform="translate(609,685.2) rotate(-90) scale(1,1.05)" text-anchor="end">0.25</text>
<text transform="translate(609,588.3) rotate(-90) scale(1,1.05)" text-anchor="end">0.50</text>
<text transform="translate(609,491.4) rotate(-90) scale(1,1.05)" text-anchor="end">0.75</text>
<text transform="translate(609,394.5) rotate(-90) scale(1,1.05)" text-anchor="end">1.00</text>
</g>
<clipPath id="ct2"><rect x="1159.3" y="12" width="476.7" height="387.6"/></clipPath>
<clipPath id="cb2"><rect x="1159.3" y="407.6" width="476.7" height="387.6"/></clipPath>
<g clip-path="url(#ct2)">
<path d="M1172,400.4 L1172,394 L1193.51,394 L1193.51,391.5 L1215.02,391.5 L1215.02,388.5 L1236.53,388.5 L1236.53,388 L1258.04,388 L1258.04,388 L1279.55,388 L1279.55,387 L1301.06,387 L1301.06,379.6 L1322.57,379.6 L1322.57,363.9 L1344.08,363.9 L1344.08,338.4 L1365.59,338.4 L1365.59,276.5 L1387.1,276.5 L1387.1,178.3 L1408.61,178.3 L1408.61,135 L1430.12,135 L1430.12,132.8 L1451.63,132.8 L1451.63,233.6 L1473.14,233.6 L1473.14,295.9 L1494.65,295.9 L1494.65,364 L1516.16,364 L1516.16,391.6 L1537.67,391.6 L1537.67,397 L1559.18,397 L1559.18,400.4 Z" fill="#78a7d1"/>
<path d="M1264.6,400.4 L1264.6,398.8 L1293.3,398.8 L1293.3,394.9 L1322,394.9 L1322,391 L1350.7,391 L1350.7,387.7 L1379.4,387.7 L1379.4,367 L1408.1,367 L1408.1,308 L1436.8,308 L1436.8,274 L1465.5,274 L1465.5,295.9 L1494.2,295.9 L1494.2,368.5 L1522.9,368.5 L1522.9,391.6 L1551.6,391.6 L1551.6,397.2 L1580.3,397.2 L1580.3,400.4 Z" fill="#dea8c0"/>
<g fill="#b998b4" shape-rendering="crispEdges"><rect x="1264.6" y="398.8" width="14.95" height="1.6"/><rect x="1279.55" y="398.8" width="13.75" height="1.6"/><rect x="1293.3" y="394.9" width="7.76" height="5.5"/><rect x="1301.06" y="394.9" width="20.94" height="5.5"/><rect x="1322" y="391" width="0.57" height="9.4"/><rect x="1322.57" y="391" width="21.51" height="9.4"/><rect x="1344.08" y="391" width="6.62" height="9.4"/><rect x="1350.7" y="387.7" width="14.89" height="12.7"/><rect x="1365.59" y="387.7" width="13.81" height="12.7"/><rect x="1379.4" y="367" width="7.7" height="33.4"/><rect x="1387.1" y="367" width="21" height="33.4"/><rect x="1408.1" y="308" width="0.51" height="92.4"/><rect x="1408.61" y="308" width="21.51" height="92.4"/><rect x="1430.12" y="308" width="6.68" height="92.4"/><rect x="1436.8" y="274" width="14.83" height="126.4"/><rect x="1451.63" y="274" width="13.87" height="126.4"/><rect x="1465.5" y="295.9" width="7.64" height="104.5"/><rect x="1473.14" y="295.9" width="21.06" height="104.5"/><rect x="1494.2" y="368.5" width="0.45" height="31.9"/><rect x="1494.65" y="368.5" width="21.51" height="31.9"/><rect x="1516.16" y="391.6" width="6.74" height="8.8"/><rect x="1522.9" y="391.6" width="14.77" height="8.8"/><rect x="1537.67" y="397" width="13.93" height="3.4"/><rect x="1551.6" y="397.2" width="7.58" height="3.2"/></g>
<path d="M1170.2,399.4 L1170.2,392.3 L1192.2,392.3 L1192.2,390.3 L1214.2,390.3 L1214.2,387.5 L1236.2,387.5 L1236.2,387.2 L1258.2,387.2 L1258.2,385.5 L1280.2,385.5 L1280.2,383 L1302.2,383 L1302.2,373.7 L1324.2,373.7 L1324.2,355.4 L1346.2,355.4 L1346.2,327.6 L1368.2,327.6 L1368.2,248.2 L1390.2,248.2 L1390.2,128 L1412.2,128 L1412.2,50.8 L1434.2,50.8 L1434.2,50.8 L1456.2,50.8 L1456.2,147 L1478.2,147 L1478.2,254.9 L1500.2,254.9 L1500.2,351.9 L1522.2,351.9 L1522.2,387.1 L1544.2,387.1 L1544.2,393.8 L1566.2,393.8 L1566.2,397 L1588.2,397 L1588.2,398.3 L1610.2,398.3 L1610.2,399.4" fill="none" stroke="#000" stroke-width="2.6" stroke-dasharray="9.6 4.2"/>
</g>
<g clip-path="url(#cb2)">
<path d="M1157.3,409.34 L1172,409.34 L1173.95,409.45 L1175.89,409.57 L1177.84,409.69 L1179.78,409.82 L1181.73,409.95 L1183.67,410.09 L1185.62,410.24 L1187.57,410.39 L1189.51,410.54 L1191.46,410.7 L1193.4,410.86 L1195.35,411.03 L1197.29,411.2 L1199.24,411.39 L1201.18,411.58 L1203.13,411.77 L1205.08,411.97 L1207.02,412.18 L1208.97,412.4 L1210.91,412.62 L1212.86,412.85 L1214.8,413.08 L1216.75,413.32 L1218.7,413.57 L1220.64,413.83 L1222.59,414.11 L1224.53,414.39 L1226.48,414.68 L1228.42,414.97 L1230.37,415.26 L1232.31,415.55 L1234.26,415.85 L1236.21,416.13 L1238.15,416.42 L1240.1,416.71 L1242.04,417 L1243.99,417.29 L1245.93,417.58 L1247.88,417.87 L1249.83,418.17 L1251.77,418.46 L1253.72,418.75 L1255.66,419.05 L1257.61,419.34 L1259.55,419.63 L1261.5,419.92 L1263.44,420.21 L1265.39,420.49 L1267.34,420.78 L1269.28,421.07 L1271.23,421.36 L1273.17,421.65 L1275.12,421.94 L1277.06,422.24 L1279.01,422.54 L1280.96,422.84 L1282.9,423.14 L1284.85,423.43 L1286.79,423.72 L1288.74,424.02 L1290.68,424.32 L1292.63,424.62 L1294.57,424.94 L1296.52,425.28 L1298.47,425.63 L1300.41,426 L1302.36,426.39 L1304.3,426.8 L1306.25,427.23 L1308.19,427.68 L1310.14,428.14 L1312.09,428.64 L1314.03,429.15 L1315.98,429.69 L1317.92,430.26 L1319.87,430.85 L1321.81,431.47 L1323.76,432.13 L1325.7,432.83 L1327.65,433.59 L1329.6,434.39 L1331.54,435.23 L1333.49,436.13 L1335.43,437.06 L1337.38,438.05 L1339.32,439.07 L1341.27,440.14 L1343.22,441.25 L1345.16,442.4 L1347.11,443.61 L1349.05,444.88 L1351,446.22 L1352.94,447.63 L1354.89,449.12 L1356.83,450.7 L1358.78,452.36 L1360.73,454.13 L1362.67,455.99 L1364.62,457.96 L1366.56,460.06 L1368.51,462.36 L1370.45,464.87 L1372.4,467.58 L1374.35,470.48 L1376.29,473.56 L1378.24,476.83 L1380.18,480.26 L1382.13,483.85 L1384.07,487.6 L1386.02,491.49 L1387.96,495.56 L1389.91,500.03 L1391.86,504.92 L1393.8,510.17 L1395.75,515.73 L1397.69,521.53 L1399.64,527.53 L1401.58,533.68 L1403.53,539.91 L1405.48,546.17 L1407.42,552.41 L1409.37,558.6 L1411.31,564.93 L1413.26,571.43 L1415.2,578.09 L1417.15,584.85 L1419.09,591.71 L1421.04,598.63 L1422.99,605.58 L1424.93,612.54 L1426.88,619.47 L1428.82,626.35 L1430.77,633.17 L1432.71,640.18 L1434.66,647.37 L1436.61,654.68 L1438.55,662.02 L1440.5,669.31 L1442.44,676.48 L1444.39,683.44 L1446.33,690.12 L1448.28,696.43 L1450.22,702.3 L1452.17,707.67 L1454.12,712.75 L1456.06,717.66 L1458.01,722.39 L1459.95,726.93 L1461.9,731.3 L1463.84,735.49 L1465.79,739.51 L1467.74,743.34 L1469.68,747 L1471.63,750.48 L1473.57,753.8 L1475.52,757.05 L1477.46,760.28 L1479.41,763.45 L1481.35,766.52 L1483.3,769.46 L1485.25,772.24 L1487.19,774.83 L1489.14,777.18 L1491.08,779.28 L1493.03,781.07 L1494.97,782.54 L1496.92,783.85 L1498.87,785.09 L1500.81,786.27 L1502.76,787.37 L1504.7,788.38 L1506.65,789.31 L1508.59,790.14 L1510.54,790.86 L1512.48,791.48 L1514.43,791.98 L1516.38,792.35 L1518.32,792.66 L1520.27,792.95 L1522.21,793.21 L1524.16,793.45 L1526.1,793.66 L1528.05,793.85 L1530,794.02 L1531.94,794.18 L1533.89,794.31 L1535.83,794.43 L1537.78,794.53 L1539.72,794.62 L1541.67,794.71 L1543.61,794.8 L1545.56,794.88 L1547.51,794.96 L1549.45,795.03 L1551.4,795.08 L1553.34,795.13 L1555.29,795.17 L1557.23,795.19 L1559.18,795.2 L1638,795.2" fill="none" stroke="#1f77b4" stroke-width="2.3" stroke-linejoin="round"/>
<path d="M1157.3,409.34 L1264.6,409.34 L1266.19,409.35 L1267.77,409.35 L1269.36,409.36 L1270.95,409.38 L1272.53,409.39 L1274.12,409.41 L1275.71,409.44 L1277.29,409.47 L1278.88,409.5 L1280.46,409.53 L1282.05,409.57 L1283.64,409.61 L1285.22,409.65 L1286.81,409.69 L1288.4,409.74 L1289.98,409.79 L1291.57,409.84 L1293.16,409.89 L1294.74,409.96 L1296.33,410.05 L1297.92,410.18 L1299.5,410.33 L1301.09,410.5 L1302.67,410.69 L1304.26,410.9 L1305.85,411.14 L1307.43,411.38 L1309.02,411.64 L1310.61,411.91 L1312.19,412.2 L1313.78,412.49 L1315.37,412.78 L1316.95,413.08 L1318.54,413.39 L1320.13,413.69 L1321.71,413.99 L1323.3,414.29 L1324.88,414.62 L1326.47,414.96 L1328.06,415.32 L1329.64,415.7 L1331.23,416.1 L1332.82,416.5 L1334.4,416.93 L1335.99,417.36 L1337.58,417.81 L1339.16,418.26 L1340.75,418.73 L1342.34,419.2 L1343.92,419.68 L1345.51,420.17 L1347.09,420.66 L1348.68,421.15 L1350.27,421.65 L1351.85,422.14 L1353.44,422.63 L1355.03,423.12 L1356.61,423.6 L1358.2,424.09 L1359.79,424.59 L1361.37,425.09 L1362.96,425.61 L1364.55,426.14 L1366.13,426.7 L1367.72,427.28 L1369.3,427.88 L1370.89,428.51 L1372.48,429.18 L1374.06,429.88 L1375.65,430.63 L1377.24,431.41 L1378.82,432.25 L1380.41,433.14 L1382,434.11 L1383.58,435.16 L1385.17,436.3 L1386.76,437.53 L1388.34,438.84 L1389.93,440.24 L1391.51,441.72 L1393.1,443.29 L1394.69,444.95 L1396.27,446.69 L1397.86,448.52 L1399.45,450.43 L1401.03,452.43 L1402.62,454.52 L1404.21,456.7 L1405.79,458.96 L1407.38,461.31 L1408.97,463.8 L1410.55,466.65 L1412.14,469.87 L1413.72,473.42 L1415.31,477.29 L1416.9,481.45 L1418.48,485.86 L1420.07,490.51 L1421.66,495.36 L1423.24,500.38 L1424.83,505.56 L1426.42,510.86 L1428,516.25 L1429.59,521.71 L1431.18,527.21 L1432.76,532.72 L1434.35,538.22 L1435.93,543.67 L1437.52,549.1 L1439.11,554.75 L1440.69,560.64 L1442.28,566.75 L1443.87,573.04 L1445.45,579.49 L1447.04,586.08 L1448.63,592.75 L1450.21,599.5 L1451.8,606.29 L1453.39,613.08 L1454.97,619.86 L1456.56,626.58 L1458.14,633.23 L1459.73,639.77 L1461.32,646.17 L1462.9,652.4 L1464.49,658.44 L1466.08,664.27 L1467.66,670.21 L1469.25,676.28 L1470.84,682.46 L1472.42,688.7 L1474.01,694.96 L1475.6,701.18 L1477.18,707.34 L1478.77,713.38 L1480.35,719.27 L1481.94,724.96 L1483.53,730.41 L1485.11,735.57 L1486.7,740.4 L1488.29,744.87 L1489.87,748.92 L1491.46,752.51 L1493.05,755.61 L1494.63,758.18 L1496.22,760.53 L1497.81,762.81 L1499.39,764.99 L1500.98,767.08 L1502.56,769.09 L1504.15,771 L1505.74,772.82 L1507.32,774.54 L1508.91,776.16 L1510.5,777.68 L1512.08,779.1 L1513.67,780.42 L1515.26,781.64 L1516.84,782.75 L1518.43,783.75 L1520.02,784.65 L1521.6,785.43 L1523.19,786.1 L1524.77,786.72 L1526.36,787.3 L1527.95,787.87 L1529.53,788.4 L1531.12,788.91 L1532.71,789.39 L1534.29,789.84 L1535.88,790.27 L1537.47,790.67 L1539.05,791.05 L1540.64,791.4 L1542.23,791.73 L1543.81,792.03 L1545.4,792.31 L1546.98,792.57 L1548.57,792.8 L1550.16,793 L1551.74,793.19 L1553.33,793.36 L1554.92,793.53 L1556.5,793.7 L1558.09,793.87 L1559.68,794.02 L1561.26,794.18 L1562.85,794.32 L1564.44,794.46 L1566.02,794.59 L1567.61,794.71 L1569.19,794.81 L1570.78,794.91 L1572.37,795 L1573.95,795.07 L1575.54,795.12 L1577.13,795.17 L1578.71,795.19 L1580.3,795.2 L1638,795.2" fill="none" stroke="#d57ea5" stroke-width="2.3" stroke-linejoin="round"/>
<path d="M1157.3,409.34 L1170.2,409.34 L1172.41,409.48 L1174.62,409.62 L1176.83,409.76 L1179.04,409.91 L1181.26,410.06 L1183.47,410.22 L1185.68,410.38 L1187.89,410.54 L1190.1,410.71 L1192.31,410.88 L1194.52,411.05 L1196.73,411.23 L1198.94,411.41 L1201.15,411.6 L1203.37,411.8 L1205.58,412 L1207.79,412.2 L1210,412.41 L1212.21,412.62 L1214.42,412.84 L1216.63,413.07 L1218.84,413.31 L1221.05,413.56 L1223.27,413.82 L1225.48,414.08 L1227.69,414.35 L1229.9,414.62 L1232.11,414.89 L1234.32,415.15 L1236.53,415.41 L1238.74,415.67 L1240.95,415.93 L1243.16,416.19 L1245.38,416.45 L1247.59,416.7 L1249.8,416.97 L1252.01,417.23 L1254.22,417.5 L1256.43,417.77 L1258.64,418.05 L1260.85,418.33 L1263.06,418.62 L1265.28,418.91 L1267.49,419.2 L1269.7,419.5 L1271.91,419.8 L1274.12,420.11 L1276.33,420.42 L1278.54,420.74 L1280.75,421.06 L1282.96,421.38 L1285.17,421.7 L1287.39,422.03 L1289.6,422.36 L1291.81,422.7 L1294.02,423.05 L1296.23,423.41 L1298.44,423.8 L1300.65,424.2 L1302.86,424.63 L1305.07,425.08 L1307.29,425.55 L1309.5,426.04 L1311.71,426.56 L1313.92,427.1 L1316.13,427.67 L1318.34,428.27 L1320.55,428.9 L1322.76,429.57 L1324.97,430.26 L1327.18,431.01 L1329.4,431.81 L1331.61,432.66 L1333.82,433.56 L1336.03,434.5 L1338.24,435.5 L1340.45,436.54 L1342.66,437.63 L1344.87,438.76 L1347.08,439.93 L1349.3,441.15 L1351.51,442.42 L1353.72,443.75 L1355.93,445.17 L1358.14,446.66 L1360.35,448.26 L1362.56,449.96 L1364.77,451.78 L1366.98,453.74 L1369.19,455.84 L1371.41,458.2 L1373.62,460.82 L1375.83,463.69 L1378.04,466.78 L1380.25,470.1 L1382.46,473.62 L1384.67,477.32 L1386.88,481.2 L1389.09,485.25 L1391.31,489.48 L1393.52,494.16 L1395.73,499.28 L1397.94,504.78 L1400.15,510.61 L1402.36,516.7 L1404.57,523 L1406.78,529.46 L1408.99,536.01 L1411.21,542.61 L1413.42,549.25 L1415.63,556.2 L1417.84,563.43 L1420.05,570.9 L1422.26,578.54 L1424.47,586.29 L1426.68,594.11 L1428.89,601.94 L1431.1,609.71 L1433.32,617.38 L1435.53,624.95 L1437.74,632.69 L1439.95,640.55 L1442.16,648.47 L1444.37,656.37 L1446.58,664.17 L1448.79,671.8 L1451,679.2 L1453.22,686.28 L1455.43,692.98 L1457.64,699.31 L1459.85,705.54 L1462.06,711.66 L1464.27,717.62 L1466.48,723.4 L1468.69,728.96 L1470.9,734.25 L1473.11,739.24 L1475.33,743.9 L1477.54,748.19 L1479.75,752.16 L1481.96,756.06 L1484.17,759.87 L1486.38,763.53 L1488.59,767 L1490.8,770.24 L1493.01,773.21 L1495.23,775.85 L1497.44,778.14 L1499.65,780.01 L1501.86,781.54 L1504.07,782.97 L1506.28,784.31 L1508.49,785.54 L1510.7,786.66 L1512.91,787.68 L1515.12,788.58 L1517.34,789.35 L1519.55,790 L1521.76,790.52 L1523.97,790.93 L1526.18,791.3 L1528.39,791.63 L1530.6,791.93 L1532.81,792.2 L1535.02,792.44 L1537.24,792.66 L1539.45,792.86 L1541.66,793.05 L1543.87,793.22 L1546.08,793.38 L1548.29,793.54 L1550.5,793.68 L1552.71,793.82 L1554.92,793.95 L1557.13,794.07 L1559.35,794.18 L1561.56,794.27 L1563.77,794.36 L1565.98,794.44 L1568.19,794.51 L1570.4,794.58 L1572.61,794.64 L1574.82,794.7 L1577.03,794.75 L1579.25,794.8 L1581.46,794.85 L1583.67,794.89 L1585.88,794.93 L1588.09,794.96 L1590.3,794.99 L1592.51,795.03 L1594.72,795.06 L1596.93,795.08 L1599.14,795.11 L1601.36,795.13 L1603.57,795.15 L1605.78,795.17 L1607.99,795.19 L1610.2,795.2 L1638,795.2" fill="none" stroke="#000" stroke-width="2.6" stroke-linejoin="round" stroke-dasharray="9.6 4.2"/>
</g>
<path d="M1221.6,399.6v-9.1M1221.6,12v9.1M1325,399.6v-9.1M1325,12v9.1M1428.4,399.6v-9.1M1428.4,12v9.1M1531.8,399.6v-9.1M1531.8,12v9.1M1635.2,399.6v-9.1M1635.2,12v9.1M1169.9,399.6v-5.5M1169.9,12v5.5M1273.3,399.6v-5.5M1273.3,12v5.5M1376.7,399.6v-5.5M1376.7,12v5.5M1480.1,399.6v-5.5M1480.1,12v5.5M1583.5,399.6v-5.5M1583.5,12v5.5M1221.6,795.2v-9.1M1221.6,407.6v9.1M1325,795.2v-9.1M1325,407.6v9.1M1428.4,795.2v-9.1M1428.4,407.6v9.1M1531.8,795.2v-9.1M1531.8,407.6v9.1M1635.2,795.2v-9.1M1635.2,407.6v9.1M1169.9,795.2v-5.5M1169.9,407.6v5.5M1273.3,795.2v-5.5M1273.3,407.6v5.5M1376.7,795.2v-5.5M1376.7,407.6v5.5M1480.1,795.2v-5.5M1480.1,407.6v5.5M1583.5,795.2v-5.5M1583.5,407.6v5.5M1159.3,310.09h9.1M1636,310.09h-9.1M1159.3,220.78h9.1M1636,220.78h-9.1M1159.3,131.47h9.1M1636,131.47h-9.1M1159.3,42.16h9.1M1636,42.16h-9.1M1159.3,369.63h5.5M1636,369.63h-5.5M1159.3,339.86h5.5M1636,339.86h-5.5M1159.3,280.32h5.5M1636,280.32h-5.5M1159.3,250.55h5.5M1636,250.55h-5.5M1159.3,191.01h5.5M1636,191.01h-5.5M1159.3,161.24h5.5M1636,161.24h-5.5M1159.3,101.7h5.5M1636,101.7h-5.5M1159.3,71.93h5.5M1636,71.93h-5.5M1159.3,12.39h5.5M1636,12.39h-5.5M1159.3,717.68h9.1M1636,717.68h-9.1M1159.3,640.16h9.1M1636,640.16h-9.1M1159.3,562.64h9.1M1636,562.64h-9.1M1159.3,485.12h9.1M1636,485.12h-9.1M1159.3,407.6h9.1M1636,407.6h-9.1" stroke="#000" stroke-width="2.0" fill="none"/>
<rect x="1159.3" y="12" width="476.7" height="387.6" fill="none" stroke="#000" stroke-width="2.1"/>
<rect x="1159.3" y="407.6" width="476.7" height="387.6" fill="none" stroke="#000" stroke-width="2.1"/>
<g font-size="38.3">
<text transform="translate(1221.6,831.3) scale(1,1.05)" text-anchor="middle">6</text>
<text transform="translate(1325,831.3) scale(1,1.05)" text-anchor="middle">7</text>
<text transform="translate(1428.4,831.3) scale(1,1.05)" text-anchor="middle">8</text>
<text transform="translate(1531.8,831.3) scale(1,1.05)" text-anchor="middle">9</text>
<text transform="translate(1635.2,831.3) scale(1,1.05)" text-anchor="middle">10</text>
<text transform="translate(1142.9,296.99) rotate(-90) scale(1,1.05)" text-anchor="end">300</text>
<text transform="translate(1142.9,207.68) rotate(-90) scale(1,1.05)" text-anchor="end">600</text>
<text transform="translate(1142.9,118.37) rotate(-90) scale(1,1.05)" text-anchor="end">900</text>
<text transform="translate(1142.9,29.06) rotate(-90) scale(1,1.05)" text-anchor="end">1200</text>
<text transform="translate(1142.9,704.58) rotate(-90) scale(1,1.05)" text-anchor="end">0.2</text>
<text transform="translate(1142.9,627.06) rotate(-90) scale(1,1.05)" text-anchor="end">0.4</text>
<text transform="translate(1142.9,549.54) rotate(-90) scale(1,1.05)" text-anchor="end">0.6</text>
<text transform="translate(1142.9,472.02) rotate(-90) scale(1,1.05)" text-anchor="end">0.8</text>
<text transform="translate(1142.9,394.5) rotate(-90) scale(1,1.05)" text-anchor="end">1.0</text>
</g>
<clipPath id="ct3"><rect x="1693.3" y="12" width="476.7" height="387.6"/></clipPath>
<clipPath id="cb3"><rect x="1693.3" y="407.6" width="476.7" height="387.6"/></clipPath>
<g clip-path="url(#ct3)">
<path d="M1779.3,400.6 L1779.3,387.1 L1808.78,387.1 L1808.78,344.5 L1838.26,344.5 L1838.26,223.7 L1867.74,223.7 L1867.74,87.9 L1897.22,87.9 L1897.22,61 L1926.7,61 L1926.7,134.3 L1956.18,134.3 L1956.18,180.2 L1985.66,180.2 L1985.66,241.4 L2015.14,241.4 L2015.14,312 L2044.62,312 L2044.62,367.5 L2074.1,367.5 L2074.1,389.2 L2103.58,389.2 L2103.58,397 L2133.06,397 L2133.06,400.6 Z" fill="#78a7d1"/>
<path d="M1767.9,400.6 L1767.9,397.9 L1801.77,397.9 L1801.77,396.5 L1835.64,396.5 L1835.64,394.5 L1869.51,394.5 L1869.51,387.1 L1903.38,387.1 L1903.38,361.7 L1937.25,361.7 L1937.25,322.7 L1971.12,322.7 L1971.12,278.4 L2004.99,278.4 L2004.99,261.1 L2038.86,261.1 L2038.86,315.3 L2072.73,315.3 L2072.73,374.2 L2106.6,374.2 L2106.6,392.2 L2140.47,392.2 L2140.47,400.6 Z" fill="#dea8c0"/>
<g fill="#b998b4" shape-rendering="crispEdges"><rect x="1779.3" y="397.9" width="22.47" height="2.7"/><rect x="1801.77" y="396.5" width="7.01" height="4.1"/><rect x="1808.78" y="396.5" width="26.86" height="4.1"/><rect x="1835.64" y="394.5" width="2.62" height="6.1"/><rect x="1838.26" y="394.5" width="29.48" height="6.1"/><rect x="1867.74" y="394.5" width="1.77" height="6.1"/><rect x="1869.51" y="387.1" width="27.71" height="13.5"/><rect x="1897.22" y="387.1" width="6.16" height="13.5"/><rect x="1903.38" y="361.7" width="23.32" height="38.9"/><rect x="1926.7" y="361.7" width="10.55" height="38.9"/><rect x="1937.25" y="322.7" width="18.93" height="77.9"/><rect x="1956.18" y="322.7" width="14.94" height="77.9"/><rect x="1971.12" y="278.4" width="14.54" height="122.2"/><rect x="1985.66" y="278.4" width="19.33" height="122.2"/><rect x="2004.99" y="261.1" width="10.15" height="139.5"/><rect x="2015.14" y="312" width="23.72" height="88.6"/><rect x="2038.86" y="315.3" width="5.76" height="85.3"/><rect x="2044.62" y="367.5" width="28.11" height="33.1"/><rect x="2072.73" y="374.2" width="1.37" height="26.4"/><rect x="2074.1" y="389.2" width="29.48" height="11.4"/><rect x="2103.58" y="397" width="3.02" height="3.6"/><rect x="2106.6" y="397" width="26.46" height="3.6"/></g>
<path d="M1690.6,399.6 L1690.6,398.5 L1720.67,398.5 L1720.67,398.3 L1750.74,398.3 L1750.74,397.8 L1780.81,397.8 L1780.81,379.3 L1810.88,379.3 L1810.88,332.9 L1840.95,332.9 L1840.95,200 L1871.02,200 L1871.02,53.2 L1901.09,53.2 L1901.09,46.2 L1931.16,46.2 L1931.16,77.6 L1961.23,77.6 L1961.23,89.5 L1991.3,89.5 L1991.3,127.1 L2021.37,127.1 L2021.37,226.2 L2051.44,226.2 L2051.44,313.5 L2081.51,313.5 L2081.51,375.1 L2111.58,375.1 L2111.58,391.9 L2141.65,391.9 L2141.65,399.6" fill="none" stroke="#000" stroke-width="2.6" stroke-dasharray="9.6 4.2"/>
</g>
<g clip-path="url(#cb3)">
<path d="M1691.3,409.34 L1779.3,409.34 L1781.08,409.36 L1782.86,409.4 L1784.63,409.47 L1786.41,409.56 L1788.19,409.67 L1789.97,409.81 L1791.74,409.97 L1793.52,410.15 L1795.3,410.34 L1797.08,410.55 L1798.85,410.77 L1800.63,411.01 L1802.41,411.26 L1804.19,411.52 L1805.97,411.79 L1807.74,412.07 L1809.52,412.36 L1811.3,412.7 L1813.08,413.11 L1814.85,413.59 L1816.63,414.13 L1818.41,414.73 L1820.19,415.38 L1821.96,416.1 L1823.74,416.86 L1825.52,417.69 L1827.3,418.56 L1829.08,419.48 L1830.85,420.45 L1832.63,421.47 L1834.41,422.53 L1836.19,423.63 L1837.96,424.77 L1839.74,426.02 L1841.52,427.48 L1843.3,429.14 L1845.07,431 L1846.85,433.03 L1848.63,435.22 L1850.41,437.56 L1852.19,440.04 L1853.96,442.65 L1855.74,445.37 L1857.52,448.18 L1859.3,451.08 L1861.07,454.06 L1862.85,457.09 L1864.63,460.17 L1866.41,463.28 L1868.18,466.42 L1869.96,469.75 L1871.74,473.32 L1873.52,477.11 L1875.3,481.1 L1877.07,485.26 L1878.85,489.58 L1880.63,494.02 L1882.41,498.58 L1884.18,503.21 L1885.96,507.91 L1887.74,512.65 L1889.52,517.41 L1891.29,522.16 L1893.07,526.88 L1894.85,531.56 L1896.63,536.16 L1898.41,540.71 L1900.18,545.36 L1901.96,550.09 L1903.74,554.9 L1905.52,559.76 L1907.29,564.66 L1909.07,569.58 L1910.85,574.51 L1912.63,579.42 L1914.4,584.31 L1916.18,589.15 L1917.96,593.92 L1919.74,598.62 L1921.52,603.22 L1923.29,607.71 L1925.07,612.07 L1926.85,616.28 L1928.63,620.39 L1930.4,624.43 L1932.18,628.41 L1933.96,632.34 L1935.74,636.2 L1937.51,640.02 L1939.29,643.77 L1941.07,647.48 L1942.85,651.14 L1944.63,654.75 L1946.4,658.32 L1948.18,661.85 L1949.96,665.33 L1951.74,668.78 L1953.51,672.2 L1955.29,675.57 L1957.07,678.92 L1958.85,682.26 L1960.62,685.58 L1962.4,688.87 L1964.18,692.15 L1965.96,695.39 L1967.73,698.59 L1969.51,701.76 L1971.29,704.88 L1973.07,707.96 L1974.85,710.98 L1976.62,713.94 L1978.4,716.85 L1980.18,719.68 L1981.96,722.45 L1983.73,725.14 L1985.51,727.75 L1987.29,730.31 L1989.07,732.85 L1990.84,735.37 L1992.62,737.86 L1994.4,740.32 L1996.18,742.74 L1997.96,745.12 L1999.73,747.44 L2001.51,749.71 L2003.29,751.91 L2005.07,754.04 L2006.84,756.1 L2008.62,758.08 L2010.4,759.97 L2012.18,761.76 L2013.95,763.46 L2015.73,765.05 L2017.51,766.61 L2019.29,768.14 L2021.07,769.65 L2022.84,771.12 L2024.62,772.56 L2026.4,773.96 L2028.18,775.31 L2029.95,776.61 L2031.73,777.85 L2033.51,779.03 L2035.29,780.15 L2037.06,781.2 L2038.84,782.18 L2040.62,783.07 L2042.4,783.89 L2044.18,784.61 L2045.95,785.26 L2047.73,785.89 L2049.51,786.49 L2051.29,787.07 L2053.06,787.62 L2054.84,788.15 L2056.62,788.66 L2058.4,789.14 L2060.17,789.59 L2061.95,790.02 L2063.73,790.42 L2065.51,790.79 L2067.29,791.14 L2069.06,791.46 L2070.84,791.74 L2072.62,792 L2074.4,792.23 L2076.17,792.45 L2077.95,792.65 L2079.73,792.85 L2081.51,793.04 L2083.28,793.22 L2085.06,793.39 L2086.84,793.56 L2088.62,793.71 L2090.4,793.86 L2092.17,793.99 L2093.95,794.12 L2095.73,794.23 L2097.51,794.33 L2099.28,794.42 L2101.06,794.5 L2102.84,794.57 L2104.62,794.63 L2106.39,794.69 L2108.17,794.75 L2109.95,794.8 L2111.73,794.85 L2113.51,794.9 L2115.28,794.95 L2117.06,794.99 L2118.84,795.03 L2120.62,795.07 L2122.39,795.1 L2124.17,795.13 L2125.95,795.15 L2127.73,795.17 L2129.5,795.19 L2131.28,795.2 L2133.06,795.2 L2172,795.2" fill="none" stroke="#1f77b4" stroke-width="2.3" stroke-linejoin="round"/>
<path d="M1691.3,409.34 L1767.9,409.34 L1769.77,409.39 L1771.64,409.44 L1773.52,409.49 L1775.39,409.54 L1777.26,409.6 L1779.13,409.66 L1781.01,409.73 L1782.88,409.8 L1784.75,409.87 L1786.62,409.94 L1788.49,410.02 L1790.37,410.1 L1792.24,410.18 L1794.11,410.26 L1795.98,410.35 L1797.86,410.43 L1799.73,410.52 L1801.6,410.61 L1803.47,410.71 L1805.34,410.8 L1807.22,410.91 L1809.09,411.01 L1810.96,411.12 L1812.83,411.24 L1814.71,411.36 L1816.58,411.48 L1818.45,411.61 L1820.32,411.74 L1822.19,411.88 L1824.07,412.02 L1825.94,412.16 L1827.81,412.3 L1829.68,412.45 L1831.56,412.61 L1833.43,412.76 L1835.3,412.92 L1837.17,413.08 L1839.04,413.24 L1840.92,413.41 L1842.79,413.58 L1844.66,413.75 L1846.53,413.93 L1848.41,414.11 L1850.28,414.3 L1852.15,414.5 L1854.02,414.7 L1855.89,414.92 L1857.77,415.14 L1859.64,415.37 L1861.51,415.61 L1863.38,415.86 L1865.25,416.13 L1867.13,416.4 L1869,416.69 L1870.87,417 L1872.74,417.32 L1874.62,417.67 L1876.49,418.04 L1878.36,418.43 L1880.23,418.84 L1882.1,419.28 L1883.98,419.74 L1885.85,420.22 L1887.72,420.74 L1889.59,421.28 L1891.47,421.84 L1893.34,422.44 L1895.21,423.07 L1897.08,423.72 L1898.95,424.41 L1900.83,425.13 L1902.7,425.88 L1904.57,426.68 L1906.44,427.59 L1908.32,428.61 L1910.19,429.73 L1912.06,430.95 L1913.93,432.26 L1915.8,433.66 L1917.68,435.15 L1919.55,436.72 L1921.42,438.36 L1923.29,440.08 L1925.17,441.86 L1927.04,443.7 L1928.91,445.6 L1930.78,447.55 L1932.65,449.54 L1934.53,451.58 L1936.4,453.66 L1938.27,455.78 L1940.14,458.05 L1942.02,460.48 L1943.89,463.04 L1945.76,465.74 L1947.63,468.57 L1949.5,471.53 L1951.38,474.6 L1953.25,477.78 L1955.12,481.06 L1956.99,484.44 L1958.87,487.91 L1960.74,491.46 L1962.61,495.09 L1964.48,498.78 L1966.35,502.54 L1968.23,506.35 L1970.1,510.22 L1971.97,514.14 L1973.84,518.24 L1975.72,522.53 L1977.59,526.99 L1979.46,531.62 L1981.33,536.39 L1983.2,541.3 L1985.08,546.33 L1986.95,551.46 L1988.82,556.67 L1990.69,561.97 L1992.57,567.32 L1994.44,572.72 L1996.31,578.15 L1998.18,583.6 L2000.05,589.05 L2001.93,594.49 L2003.8,599.9 L2005.67,605.29 L2007.54,610.85 L2009.42,616.6 L2011.29,622.51 L2013.16,628.56 L2015.03,634.7 L2016.9,640.9 L2018.78,647.14 L2020.65,653.37 L2022.52,659.57 L2024.39,665.71 L2026.27,671.74 L2028.14,677.64 L2030.01,683.38 L2031.88,688.92 L2033.75,694.24 L2035.63,699.29 L2037.5,704.04 L2039.37,708.48 L2041.24,712.84 L2043.12,717.19 L2044.99,721.52 L2046.86,725.81 L2048.73,730.04 L2050.6,734.18 L2052.48,738.23 L2054.35,742.16 L2056.22,745.96 L2058.09,749.6 L2059.96,753.06 L2061.84,756.33 L2063.71,759.4 L2065.58,762.23 L2067.45,764.81 L2069.33,767.12 L2071.2,769.15 L2073.07,770.87 L2074.94,772.45 L2076.81,773.97 L2078.69,775.42 L2080.56,776.81 L2082.43,778.14 L2084.3,779.41 L2086.18,780.62 L2088.05,781.76 L2089.92,782.84 L2091.79,783.86 L2093.66,784.81 L2095.54,785.7 L2097.41,786.53 L2099.28,787.29 L2101.15,787.99 L2103.03,788.62 L2104.9,789.19 L2106.77,789.69 L2108.64,790.16 L2110.51,790.63 L2112.39,791.09 L2114.26,791.53 L2116.13,791.97 L2118,792.38 L2119.88,792.78 L2121.75,793.16 L2123.62,793.51 L2125.49,793.84 L2127.36,794.14 L2129.24,794.4 L2131.11,794.64 L2132.98,794.83 L2134.85,794.99 L2136.73,795.1 L2138.6,795.18 L2140.47,795.2 L2172,795.2" fill="none" stroke="#d57ea5" stroke-width="2.3" stroke-linejoin="round"/>
<path d="M1691.3,409.34 L1690.6,409.34 L1692.87,409.36 L1695.13,409.37 L1697.4,409.39 L1699.67,409.4 L1701.93,409.41 L1704.2,409.43 L1706.47,409.44 L1708.73,409.46 L1711,409.47 L1713.27,409.49 L1715.53,409.5 L1717.8,409.52 L1720.07,409.53 L1722.33,409.55 L1724.6,409.57 L1726.87,409.58 L1729.13,409.6 L1731.4,409.61 L1733.67,409.63 L1735.93,409.65 L1738.2,409.66 L1740.46,409.68 L1742.73,409.7 L1745,409.72 L1747.26,409.74 L1749.53,409.76 L1751.8,409.78 L1754.06,409.8 L1756.33,409.81 L1758.6,409.83 L1760.86,409.85 L1763.13,409.86 L1765.4,409.88 L1767.66,409.9 L1769.93,409.93 L1772.2,409.95 L1774.46,409.98 L1776.73,410.01 L1779,410.05 L1781.26,410.09 L1783.53,410.17 L1785.8,410.29 L1788.06,410.45 L1790.33,410.64 L1792.6,410.88 L1794.86,411.14 L1797.13,411.43 L1799.4,411.75 L1801.66,412.09 L1803.93,412.45 L1806.2,412.84 L1808.46,413.23 L1810.73,413.64 L1813,414.09 L1815.26,414.61 L1817.53,415.2 L1819.8,415.87 L1822.06,416.61 L1824.33,417.42 L1826.59,418.3 L1828.86,419.25 L1831.13,420.27 L1833.39,421.35 L1835.66,422.5 L1837.93,423.72 L1840.19,425 L1842.46,426.39 L1844.73,428.04 L1846.99,429.95 L1849.26,432.1 L1851.53,434.47 L1853.79,437.02 L1856.06,439.76 L1858.33,442.64 L1860.59,445.66 L1862.86,448.79 L1865.13,452.01 L1867.39,455.3 L1869.66,458.64 L1871.93,462.03 L1874.19,465.71 L1876.46,469.7 L1878.73,473.96 L1880.99,478.44 L1883.26,483.12 L1885.53,487.94 L1887.79,492.87 L1890.06,497.86 L1892.33,502.88 L1894.59,507.88 L1896.86,512.83 L1899.13,517.68 L1901.39,522.39 L1903.66,527.07 L1905.93,531.79 L1908.19,536.54 L1910.46,541.3 L1912.73,546.07 L1914.99,550.85 L1917.26,555.61 L1919.52,560.36 L1921.79,565.08 L1924.06,569.77 L1926.32,574.41 L1928.59,579 L1930.86,583.53 L1933.12,587.99 L1935.39,592.41 L1937.66,596.79 L1939.92,601.13 L1942.19,605.45 L1944.46,609.73 L1946.72,613.99 L1948.99,618.23 L1951.26,622.45 L1953.52,626.66 L1955.79,630.86 L1958.06,635.06 L1960.32,639.26 L1962.59,643.46 L1964.86,647.68 L1967.12,651.9 L1969.39,656.12 L1971.66,660.34 L1973.92,664.54 L1976.19,668.73 L1978.46,672.89 L1980.72,677.01 L1982.99,681.1 L1985.26,685.14 L1987.52,689.13 L1989.79,693.07 L1992.06,696.94 L1994.32,700.83 L1996.59,704.75 L1998.86,708.68 L2001.12,712.58 L2003.39,716.46 L2005.66,720.28 L2007.92,724.03 L2010.19,727.69 L2012.45,731.24 L2014.72,734.65 L2016.99,737.92 L2019.25,741.01 L2021.52,743.92 L2023.79,746.72 L2026.05,749.46 L2028.32,752.16 L2030.59,754.78 L2032.85,757.34 L2035.12,759.81 L2037.39,762.18 L2039.65,764.46 L2041.92,766.63 L2044.19,768.68 L2046.45,770.6 L2048.72,772.38 L2050.99,774.02 L2053.25,775.54 L2055.52,777.04 L2057.79,778.5 L2060.05,779.92 L2062.32,781.28 L2064.59,782.59 L2066.85,783.82 L2069.12,784.97 L2071.39,786.04 L2073.65,787.01 L2075.92,787.88 L2078.19,788.63 L2080.45,789.27 L2082.72,789.79 L2084.99,790.26 L2087.25,790.71 L2089.52,791.13 L2091.79,791.53 L2094.05,791.89 L2096.32,792.23 L2098.58,792.54 L2100.85,792.83 L2103.12,793.09 L2105.38,793.32 L2107.65,793.54 L2109.92,793.72 L2112.18,793.88 L2114.45,794.04 L2116.72,794.19 L2118.98,794.34 L2121.25,794.48 L2123.52,794.61 L2125.78,794.74 L2128.05,794.85 L2130.32,794.95 L2132.58,795.04 L2134.85,795.1 L2137.12,795.16 L2139.38,795.19 L2141.65,795.2 L2172,795.2" fill="none" stroke="#000" stroke-width="2.6" stroke-linejoin="round" stroke-dasharray="9.6 4.2"/>
</g>
<path d="M1693.4,399.6v-9.1M1693.4,12v9.1M1777,399.6v-9.1M1777,12v9.1M1860.6,399.6v-9.1M1860.6,12v9.1M1944.2,399.6v-9.1M1944.2,12v9.1M2027.8,399.6v-9.1M2027.8,12v9.1M2111.4,399.6v-9.1M2111.4,12v9.1M1735.2,399.6v-5.5M1735.2,12v5.5M1818.8,399.6v-5.5M1818.8,12v5.5M1902.4,399.6v-5.5M1902.4,12v5.5M1986,399.6v-5.5M1986,12v5.5M2069.6,399.6v-5.5M2069.6,12v5.5M2153.2,399.6v-5.5M2153.2,12v5.5M1693.4,795.2v-9.1M1693.4,407.6v9.1M1777,795.2v-9.1M1777,407.6v9.1M1860.6,795.2v-9.1M1860.6,407.6v9.1M1944.2,795.2v-9.1M1944.2,407.6v9.1M2027.8,795.2v-9.1M2027.8,407.6v9.1M2111.4,795.2v-9.1M2111.4,407.6v9.1M1735.2,795.2v-5.5M1735.2,407.6v5.5M1818.8,795.2v-5.5M1818.8,407.6v5.5M1902.4,795.2v-5.5M1902.4,407.6v5.5M1986,795.2v-5.5M1986,407.6v5.5M2069.6,795.2v-5.5M2069.6,407.6v5.5M2153.2,795.2v-5.5M2153.2,407.6v5.5M1693.3,290.7h9.1M2170,290.7h-9.1M1693.3,181.8h9.1M2170,181.8h-9.1M1693.3,72.9h9.1M2170,72.9h-9.1M1693.3,363.3h5.5M2170,363.3h-5.5M1693.3,327h5.5M2170,327h-5.5M1693.3,254.4h5.5M2170,254.4h-5.5M1693.3,218.1h5.5M2170,218.1h-5.5M1693.3,145.5h5.5M2170,145.5h-5.5M1693.3,109.2h5.5M2170,109.2h-5.5M1693.3,36.6h5.5M2170,36.6h-5.5M1693.3,717.68h9.1M2170,717.68h-9.1M1693.3,640.16h9.1M2170,640.16h-9.1M1693.3,562.64h9.1M2170,562.64h-9.1M1693.3,485.12h9.1M2170,485.12h-9.1M1693.3,407.6h9.1M2170,407.6h-9.1" stroke="#000" stroke-width="2.0" fill="none"/>
<rect x="1693.3" y="12" width="476.7" height="387.6" fill="none" stroke="#000" stroke-width="2.1"/>
<rect x="1693.3" y="407.6" width="476.7" height="387.6" fill="none" stroke="#000" stroke-width="2.1"/>
<g font-size="38.3">
<text transform="translate(1693.4,831.3) scale(1,1.05)" text-anchor="middle">41</text>
<text transform="translate(1777,831.3) scale(1,1.05)" text-anchor="middle">42</text>
<text transform="translate(1860.6,831.3) scale(1,1.05)" text-anchor="middle">43</text>
<text transform="translate(1944.2,831.3) scale(1,1.05)" text-anchor="middle">44</text>
<text transform="translate(2027.8,831.3) scale(1,1.05)" text-anchor="middle">45</text>
<text transform="translate(2111.4,831.3) scale(1,1.05)" text-anchor="middle">46</text>
<text transform="translate(1676.9,277.6) rotate(-90) scale(1,1.05)" text-anchor="end">300</text>
<text transform="translate(1676.9,168.7) rotate(-90) scale(1,1.05)" text-anchor="end">600</text>
<text transform="translate(1676.9,59.8) rotate(-90) scale(1,1.05)" text-anchor="end">900</text>
<text transform="translate(1676.9,704.58) rotate(-90) scale(1,1.05)" text-anchor="end">0.2</text>
<text transform="translate(1676.9,627.06) rotate(-90) scale(1,1.05)" text-anchor="end">0.4</text>
<text transform="translate(1676.9,549.54) rotate(-90) scale(1,1.05)" text-anchor="end">0.6</text>
<text transform="translate(1676.9,472.02) rotate(-90) scale(1,1.05)" text-anchor="end">0.8</text>
<text transform="translate(1676.9,394.5) rotate(-90) scale(1,1.05)" text-anchor="end">1.0</text>
</g>
<rect x="102.9" y="23.4" width="186.3" height="99" rx="5.5" ry="5.5" fill="#fff" fill-opacity="0.8" stroke="#d6d6d6" stroke-width="2.8"/>
<rect x="109.8" y="30.3" width="46.2" height="16.4" fill="#78a7d1"/>
<rect x="109.8" y="63" width="46.2" height="15.9" fill="#dea8c0"/>
<rect x="110.4" y="95.8" width="45.4" height="15.6" fill="none" stroke="#000" stroke-width="2.6" stroke-dasharray="9.6 4.2"/>
<g font-size="23">
<text x="165.2" y="46.5">Sample A</text>
<text x="165.2" y="78.6">Sample B</text>
<text x="166.2" y="111.6">Total sample</text>
</g>
<g font-size="38.3">
<text transform="translate(32.2,205.6) rotate(-90)" text-anchor="middle">Number</text>
<text transform="translate(26.7,600.3) rotate(-90)" text-anchor="middle">Cumulative fraction</text>
</g>
<g font-size="46.8">
<text x="206.8" y="886.9">log</text>
<text x="276.8" y="886.9">M</text>
<text x="317.6" y="895.3" font-size="35">*</text>
<text x="335.9" y="886.9">/</text>
<text x="349.1" y="889.3" font-size="49.5">[</text>
<text x="363.7" y="886.9">M</text>
<text x="404.8" y="894.9" font-size="33" font-family="DejaVu Sans, sans-serif">⊙</text>
<text x="436.5" y="886.4" font-size="50.3">]</text>
<text x="721.8" y="901.9">log</text>
<text x="790.9" y="901.9">σ</text>
<text x="817.3" y="913.6999999999999" font-size="33">*</text>
<text x="834.9" y="901.9">/</text>
<text x="848.6" y="904.3" font-size="49.5">[</text>
<text x="864.1" y="901.9">km</text>
<text x="935.3" y="901.9">s</text>
<text x="951.5" y="873.9" font-size="32">−</text>
<text x="971.9" y="874.1999999999999" font-size="32">1</text>
<text x="989" y="904.3" font-size="49.5">]</text>
<text x="1259.6" y="886.8">log</text>
<text x="1329.7" y="886.8">M</text>
<text x="1371.7" y="898.5" font-size="32">BH</text>
<text x="1418.4" y="886.8">/</text>
<text x="1431.4" y="889.1999999999999" font-size="49.5">[</text>
<text x="1446.1" y="886.8">M</text>
<text x="1487.6" y="894.8" font-size="33" font-family="DejaVu Sans, sans-serif">⊙</text>
<text x="1519" y="886.3" font-size="50.3">]</text>
<text x="1768.4" y="893.4">log</text>
<text x="1838.1" y="893.4">L</text>
<text x="1867.1" y="905.1999999999999" font-size="32">bol</text>
<text x="1910.4" y="893.4">/</text>
<text x="1923.6" y="895.8" font-size="49.5">[</text>
<text x="1937.3" y="893.4">erg</text>
<text x="2008.6" y="893.4">s</text>
<text x="2026.9" y="879.7" font-size="40">−</text>
<text x="2055.2" y="875.4" font-size="35.8">1</text>
<text x="2077.6" y="892.9" font-size="50.3">]</text>
</g>
</svg></body></html>
